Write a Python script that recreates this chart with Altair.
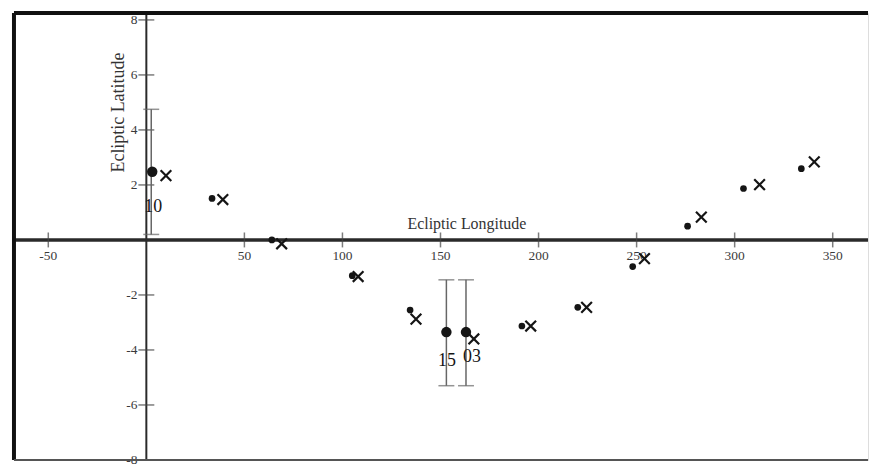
import altair as alt
import pandas as pd

# ---- data ----
dot_lon = [3, 33.5, 64, 105, 134.5, 153, 163, 191.5, 220, 248, 276, 304.5, 334]
dot_lat = [2.48, 1.51, 0.0, -1.3, -2.55, -3.35, -3.35, -3.13, -2.45, -0.97, 0.5, 1.87, 2.59]
dot_big = [True, False, False, False, False, True, True, False, False, False, False, False, False]

x_lon = [10, 39, 69, 108, 137.5, 167, 196, 224.5, 254, 283, 312.7, 340.6]
x_lat = [2.34, 1.47, -0.14, -1.33, -2.88, -3.6, -3.13, -2.45, -0.68, 0.83, 2.01, 2.84]

err_lon = [2.5, 153, 163]
err_low = [0.2, -5.3, -5.3]
err_high = [4.75, -1.45, -1.45]

lab_text = ["10", "15", "03"]
lab_lon = [3.5, 153.3, 166]
lab_lat = [1.2, -4.4, -4.25]

x_ticks = [-50, 50, 100, 150, 200, 250, 300, 350]
y_ticks = [-8, -6, -4, -2, 2, 4, 6, 8]

X_DOM = [-67.5, 368]
Y_DOM = [-8.0, 8.25]
W, H = 858, 449

xs = alt.Scale(domain=X_DOM, nice=False, zero=False)
ys = alt.Scale(domain=Y_DOM, nice=False, zero=False)

dots = pd.DataFrame({"lon": dot_lon, "lat": dot_lat, "big": dot_big})
xm = pd.DataFrame({"lon": x_lon, "lat": x_lat})
err = pd.DataFrame({"lon": err_lon, "lo": err_low, "hi": err_high})
labs = pd.DataFrame({"lon": lab_lon, "lat": lab_lat, "t": lab_text})
xt = pd.DataFrame({"v": x_ticks, "z": [0] * len(x_ticks), "t": [str(v) for v in x_ticks]})
yt = pd.DataFrame({"v": y_ticks, "z": [0] * len(y_ticks), "t": [str(v) for v in y_ticks]})
origin = pd.DataFrame({"x0": [X_DOM[0]], "x1": [X_DOM[1]], "y0": [Y_DOM[0]], "y1": [Y_DOM[1]], "z": [0]})

X = lambda f: alt.X(f, type="quantitative", scale=xs, axis=None)
Y = lambda f: alt.Y(f, type="quantitative", scale=ys, axis=None)

font = "Liberation Serif"
ink = "#151515"

xaxis = alt.Chart(origin).mark_rule(color="#2a2a2a", strokeWidth=3.5).encode(
    x=X("x0"), x2="x1", y=Y("z"))
yaxis = alt.Chart(origin).mark_rule(color="#2a2a2a", strokeWidth=2).encode(
    x=X("z"), y=Y("y0"), y2="y1")

xtick = alt.Chart(xt).mark_tick(orient="vertical", size=15, thickness=1.5, color="#444").encode(
    x=X("v"), y=Y("z"))
ytick = alt.Chart(yt).mark_tick(orient="horizontal", size=16, thickness=1.5, color="#444").encode(
    x=X("z"), y=Y("v"))
xlab = alt.Chart(xt).mark_text(font=font, fontSize=13.5, dy=16, color="#3a3a3a", baseline="middle").encode(
    x=X("v"), y=Y("z"), text="t:N")
ylab = alt.Chart(yt).mark_text(font=font, fontSize=13.5, dx=-9, align="right", baseline="middle",
                               color="#3a3a3a").encode(
    x=X("z"), y=Y("v"), text="t:N")

xtitle = alt.Chart(origin).mark_text(font=font, fontSize=16, color="#333", text="Ecliptic Longitude").encode(
    x=alt.value(455), y=alt.value(212))
ytitle = alt.Chart(origin).mark_text(font=font, fontSize=18, color="#333", angle=270,
                                     text="Ecliptic Latitude").encode(
    x=alt.value(106), y=alt.value(100))

errs = alt.Chart(err).mark_errorbar(ticks=alt.TickConfig(size=16, thickness=1.5, color="#666"),
                                    rule=alt.MarkConfig(strokeWidth=1.5, color="#666"), color="#666").encode(
    x=X("lon"), y=Y("lo"), y2="hi")

small = alt.Chart(dots).mark_point(filled=True, color=ink, opacity=1).encode(
    x=X("lon"), y=Y("lat"),
    size=alt.Size("big:N", scale=alt.Scale(domain=[False, True], range=[45, 110]), legend=None))

crosses = alt.Chart(xm).mark_point(shape="M-1,-1L1,1M-1,1L1,-1", filled=False, color=ink,
                                   strokeWidth=2.2, size=115, opacity=1).encode(
    x=X("lon"), y=Y("lat"))

labels = alt.Chart(labs).mark_text(font=font, fontSize=18, color=ink, baseline="middle").encode(
    x=X("lon"), y=Y("lat"), text="t:N")

frame_top = alt.Chart(origin).mark_rule(color="#111", strokeWidth=4).encode(
    x=alt.value(0), x2=alt.value(W), y=alt.value(0))
frame_left = alt.Chart(origin).mark_rule(color="#111", strokeWidth=4).encode(
    x=alt.value(0), y=alt.value(0), y2=alt.value(H))
frame_bot = alt.Chart(origin).mark_rule(color="#555", strokeWidth=2).encode(
    x=alt.value(0), x2=alt.value(W), y=alt.value(H))

chart = alt.layer(
    xaxis, yaxis, xtick, ytick, xlab, ylab, xtitle, ytitle, errs, small, crosses, labels,
    frame_top, frame_left, frame_bot
).properties(
    width=W, height=H, padding={"left": 4, "top": 2, "right": 0, "bottom": 0}
).configure_view(stroke=None).configure(background="white")

chart.save("out.html", embed_options={"renderer": "svg", "actions": False})
